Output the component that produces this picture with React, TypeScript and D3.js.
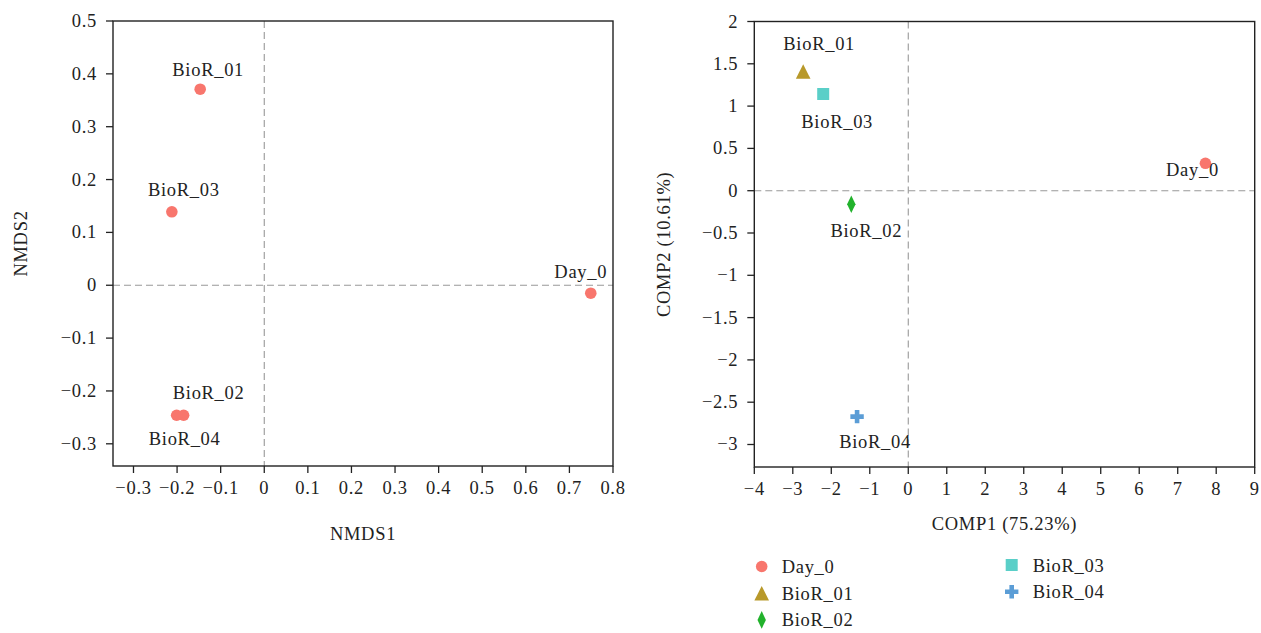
import React from "react";
import * as d3 from "d3";

// Sample ordination results
const samples = ["Day_0", "BioR_01", "BioR_02", "BioR_03", "BioR_04"];
const nmds1 = [0.749, -0.147, -0.185, -0.212, -0.201];
const nmds2 = [-0.015, 0.371, -0.246, 0.139, -0.246];
const comp1 = [7.72, -2.73, -1.48, -2.21, -1.33];
const comp2 = [0.324, 1.41, -0.16, 1.143, -2.67];

const nmdsXTicks = [-0.3, -0.2, -0.1, 0, 0.1, 0.2, 0.3, 0.4, 0.5, 0.6, 0.7, 0.8];
const nmdsYTicks = [-0.3, -0.2, -0.1, 0, 0.1, 0.2, 0.3, 0.4, 0.5];
const pcaXTicks = [-4, -3, -2, -1, 0, 1, 2, 3, 4, 5, 6, 7, 8, 9];
const pcaYTicks = [-3, -2.5, -2, -1.5, -1, -0.5, 0, 0.5, 1, 1.5, 2];

// label nudges (px) so text doesn't sit on the markers
const nmdsLabelDx = [-10, 8, 25, 12, 8];
const nmdsLabelDy = [-21, -19, -22, -22, 24];
const pcaLabelDx = [-13, 16, 15, 14, 18];
const pcaLabelDy = [7, -27, 27, 28, 25];

const colors: Record<string, string> = {
  Day_0: "#F8766D",
  BioR_01: "#B8992A",
  BioR_02: "#22B22C",
  BioR_03: "#5ACFC8",
  BioR_04: "#5B9DD6",
};

const FONT = "'Liberation Serif', 'Times New Roman', serif";
const FS = 18.5;
const LS = 0.7;
const INK = "#222";

function fmt(v: number) {
  const r = Math.round(v * 10) / 10;
  return String(r).replace("-", "\u2212");
}

function Marker({ name, x, y, circleOnly }: { name: string; x: number; y: number; circleOnly?: boolean }) {
  const c = circleOnly ? colors.Day_0 : colors[name];
  const shape = circleOnly ? "Day_0" : name;
  if (shape === "Day_0") return <circle cx={x} cy={y} r={5.8} fill={c} />;
  if (shape === "BioR_01") {
    const w = 14.6, h = 14.5;
    return <path d={`M${x},${y - h / 2}L${x + w / 2},${y + h / 2}L${x - w / 2},${y + h / 2}Z`} fill={c} />;
  }
  if (shape === "BioR_02") {
    const w = 8.4, h = 17.6;
    return <path d={`M${x},${y - h / 2}L${x + w / 2},${y}L${x},${y + h / 2}L${x - w / 2},${y}Z`} fill={c} />;
  }
  if (shape === "BioR_03") return <rect x={x - 6} y={y - 6} width={12} height={12} fill={c} />;
  const s = 6.7, t = 2.3;
  return (
    <path
      d={`M${x - t},${y - s}H${x + t}V${y - t}H${x + s}V${y + t}H${x + t}V${y + s}H${x - t}V${y + t}H${x - s}V${y - t}H${x - t}Z`}
      fill={c}
    />
  );
}

type PanelProps = {
  left: number; top: number; right: number; bottom: number;
  xDomain: [number, number]; yDomain: [number, number];
  xTicks: number[]; yTicks: number[];
  xs: number[]; ys: number[];
  ldx: number[]; ldy: number[];
  xTitle: string; yTitle: string;
  xTitleY: number; yTitleX: number;
  circlesOnly?: boolean;
};

function Panel(p: PanelProps) {
  const x = d3.scaleLinear().domain(p.xDomain).range([p.left, p.right]);
  const y = d3.scaleLinear().domain(p.yDomain).range([p.bottom, p.top]);
  const textStyle = { fontFamily: FONT, fontSize: FS, letterSpacing: LS, fill: INK } as const;
  return (
    <g>
      {/* reference lines at zero */}
      <line x1={x(0)} x2={x(0)} y1={p.top} y2={p.bottom} stroke="#999" strokeDasharray="7,4" strokeWidth={1.1} />
      <line x1={p.left} x2={p.right} y1={y(0)} y2={y(0)} stroke="#999" strokeDasharray="7,4" strokeWidth={1.1} />
      <rect x={p.left} y={p.top} width={p.right - p.left} height={p.bottom - p.top} fill="none" stroke={INK} strokeWidth={1.4} />
      {p.xTicks.map((t) => (
        <g key={"x" + t}>
          <line x1={x(t)} x2={x(t)} y1={p.bottom} y2={p.bottom + 7} stroke={INK} strokeWidth={1.3} />
          <text x={x(t)} y={p.bottom + 28} textAnchor="middle" style={textStyle}>{fmt(t)}</text>
        </g>
      ))}
      {p.yTicks.map((t) => (
        <g key={"y" + t}>
          <line x1={p.left - 7} x2={p.left} y1={y(t)} y2={y(t)} stroke={INK} strokeWidth={1.3} />
          <text x={p.left - 16} y={y(t) + 6} textAnchor="end" style={textStyle}>{fmt(t)}</text>
        </g>
      ))}
      <text x={(p.left + p.right) / 2} y={p.xTitleY} textAnchor="middle" style={textStyle}>{p.xTitle}</text>
      <text
        transform={`translate(${p.yTitleX},${(p.top + p.bottom) / 2}) rotate(-90)`}
        textAnchor="middle"
        dy="0.35em"
        style={textStyle}
      >
        {p.yTitle}
      </text>
      {samples.map((s, i) => (
        <Marker key={s} name={s} x={x(p.xs[i])} y={y(p.ys[i])} circleOnly={p.circlesOnly} />
      ))}
      {samples.map((s, i) => (
        <text
          key={"l" + s}
          x={x(p.xs[i]) + p.ldx[i]}
          y={y(p.ys[i]) + p.ldy[i] + 6}
          textAnchor="middle"
          style={textStyle}
        >
          {s}
        </text>
      ))}
    </g>
  );
}

export default function App() {
  const legendCols = [
    { names: ["Day_0", "BioR_01", "BioR_02"], sx: 761.7, tx: 781.7, y0: 566.5 },
    { names: ["BioR_03", "BioR_04"], sx: 1011.7, tx: 1032.7, y0: 565 },
  ];
  return (
    <svg
      width={1261}
      height={633}
      style={{ position: "absolute", left: 0, top: 0, background: "#fff" }}
    >
      <rect width={1261} height={633} fill="#fff" />
      <Panel
        left={113} top={21} right={613} bottom={466}
        xDomain={[-0.347, 0.8]} yDomain={[-0.342, 0.5]}
        xTicks={nmdsXTicks} yTicks={nmdsYTicks}
        xs={nmds1} ys={nmds2} ldx={nmdsLabelDx} ldy={nmdsLabelDy}
        xTitle="NMDS1" yTitle="NMDS2" xTitleY={540} yTitleX={21}
        circlesOnly
      />
      <Panel
        left={754.3} top={21.5} right={1254.7} bottom={467}
        xDomain={[-4, 9]} yDomain={[-3.266, 2]}
        xTicks={pcaXTicks} yTicks={pcaYTicks}
        xs={comp1} ys={comp2} ldx={pcaLabelDx} ldy={pcaLabelDy}
        xTitle="COMP1 (75.23%)" yTitle="COMP2 (10.61%)" xTitleY={530} yTitleX={664}
      />
      {legendCols.map((col, ci) =>
        col.names.map((n, i) => (
          <g key={ci + n}>
            <Marker name={n} x={col.sx} y={col.y0 + i * 26.7} />
            <text
              x={col.tx}
              y={col.y0 + i * 26.7 + 6.5}
              style={{ fontFamily: FONT, fontSize: FS, letterSpacing: LS, fill: INK }}
            >
              {n}
            </text>
          </g>
        ))
      )}
    </svg>
  );
}
